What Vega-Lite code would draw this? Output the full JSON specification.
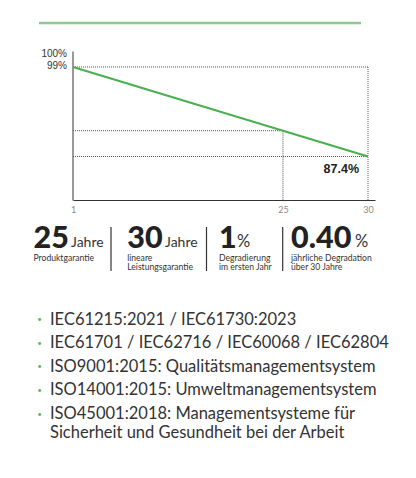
{
  "$schema": "https://vega.github.io/schema/vega-lite/v6.json",
  "width": 416,
  "height": 478,
  "autosize": "none",
  "padding": 0,
  "background": "white",
  "config": {"view": {"stroke": null}},
  "datasets": {
    "stats": [
      {"col": 0, "num": "25", "unit": "Jahre", "sub": "Produktgarantie"},
      {"col": 1, "num": "30", "unit": "Jahre", "sub": "lineare\nLeistungsgarantie"},
      {"col": 2, "num": "1", "unit": "%", "sub": "Degradierung\nim ersten Jahr"},
      {"col": 3, "num": "0.40", "unit": "%", "sub": "jährliche Degradation\nüber 30 Jahre"}
    ]
  },
  "resolve": {"scale": {"x": "independent", "y": "independent"}, "axis": {"x": "independent", "y": "independent"}},
  "layer": [
    {
      "data": {"values": [{}]},
      "mark": {"type": "rule", "color": "#8dcb8d", "strokeWidth": 2.5},
      "encoding": {
        "x": {"datum": 0, "scale": {"domain": [0, 1], "range": [39, 361], "zero": false, "nice": false}, "axis": null},
        "x2": {"datum": 1},
        "y": {"datum": 0, "scale": {"domain": [0, 1], "range": [23, 24], "zero": false, "nice": false}, "axis": null}
      }
    },
    {
      "data": {"values": [
        {"year": 1, "value": 99},
        {"year": 25, "value": 89.4},
        {"year": 30, "value": 87.4}
      ]},
      "layer": [
        {
          "data": {"values": [
            {"x1": 1, "x2": 30, "y1": 99, "y2": 99},
            {"x1": 30, "x2": 30, "y1": 99, "y2": 80},
            {"x1": 1, "x2": 25, "y1": 89.4, "y2": 89.4},
            {"x1": 25, "x2": 25, "y1": 89.4, "y2": 80},
            {"x1": 1, "x2": 30, "y1": 87.4, "y2": 87.4}
          ]},
          "mark": {"type": "rule", "color": "#555555", "strokeWidth": 1, "strokeDash": [1, 1]},
          "encoding": {
            "x": {"field": "x1", "type": "quantitative", "title": null,
              "scale": {"type": "linear", "domain": [1, 25, 30, 30.41], "range": [73, 283, 368, 375], "zero": false, "nice": false},
              "axis": {"values": [1, 25, 30], "ticks": false, "grid": false, "domainColor": "#333333", "domainWidth": 1,
                "labelColor": "#8a8a8a", "labelFontSize": 9, "labelFont": "Lato", "labelPadding": 5, "offset": -278,
                "labelFlush": false, "labelOverlap": false, "title": null}},
            "x2": {"field": "x2"},
            "y": {"field": "y1", "type": "quantitative", "title": null,
              "scale": {"type": "linear", "domain": [80, 87.4, 89.4, 99, 100, 100.45], "range": [200, 156.5, 130.7, 67, 55, 51], "zero": false, "nice": false},
              "axis": {"values": [99, 100], "ticks": false, "grid": false, "domainColor": "#333333", "domainWidth": 1,
                "labelColor": "#333333", "labelFontSize": 10, "labelFont": "Liberation Sans", "labelPadding": 6, "offset": -72.5,
                "labelOffset": -1.5, "labelOverlap": false, "labelExpr": "datum.value + '%'", "title": null}},
            "y2": {"field": "y2"}
          }
        },
        {
          "mark": {"type": "line", "color": "#4caf50", "strokeWidth": 2.2},
          "encoding": {
            "x": {"field": "year", "type": "quantitative", "title": null},
            "y": {"field": "value", "type": "quantitative", "title": null}
          }
        },
        {
          "data": {"values": [{"year": 30, "value": 87.4, "label": "87.4%"}]},
          "mark": {"type": "text", "align": "right", "baseline": "alphabetic", "dx": -9, "dy": 16, "font": "Liberation Sans", "fontWeight": "bold", "fontSize": 12.5, "color": "#222222"},
          "encoding": {
            "x": {"field": "year", "type": "quantitative", "title": null},
            "y": {"field": "value", "type": "quantitative", "title": null},
            "text": {"field": "label"}
          }
        }
      ]
    },
    {
      "data": {"name": "stats"},
      "layer": [
        {
          "mark": {"type": "text", "align": "left", "baseline": "alphabetic", "font": "Lato", "fontWeight": 900, "fontSize": 30.5, "color": "#222222"},
          "encoding": {
            "x": {"field": "col", "type": "quantitative", "scale": {"domain": [0, 1, 2, 3], "range": [33.5, 127.2, 219, 291], "zero": false, "nice": false}, "axis": null},
            "y": {"datum": 0, "scale": {"domain": [0, 1], "range": [247.5, 261], "zero": false, "nice": false}, "axis": null},
            "text": {"field": "num"}
          }
        },
        {
          "mark": {"type": "text", "align": "left", "baseline": "alphabetic", "font": "Lato", "fontSize": 8.6, "lineBreak": "\n", "lineHeight": 9.4, "color": "#333333"},
          "encoding": {
            "x": {"field": "col", "type": "quantitative", "axis": null},
            "y": {"datum": 1, "axis": null},
            "text": {"field": "sub"}
          }
        }
      ]
    },
    {
      "data": {"name": "stats"},
      "mark": {"type": "text", "align": "left", "baseline": "alphabetic", "font": "Lato", "color": "#333333"},
      "encoding": {
        "x": {"field": "col", "type": "quantitative", "scale": {"domain": [0, 1, 2, 3], "range": [71, 165, 237, 355], "zero": false, "nice": false}, "axis": null},
        "y": {"datum": 0, "scale": {"domain": [0, 1], "range": [247, 261.5], "zero": false, "nice": false}, "axis": null},
        "size": {"condition": {"test": "datum.unit === '%'", "value": 16.5}, "value": 14},
        "text": {"field": "unit"}
      }
    },
    {
      "data": {"name": "stats"},
      "transform": [{"filter": "datum.col > 0"}],
      "mark": {"type": "rule", "color": "#333333", "strokeWidth": 1.2},
      "encoding": {
        "x": {"field": "col", "type": "quantitative", "scale": {"domain": [1, 2, 3], "range": [111, 206.5, 282.7], "zero": false, "nice": false}, "axis": null},
        "y": {"datum": 0, "scale": {"domain": [0, 1], "range": [227, 271], "zero": false, "nice": false}, "axis": null},
        "y2": {"datum": 1}
      }
    },
    {
      "data": {"values": [
        {"i": 0, "text": "IEC61215:2021 / IEC61730:2023"},
        {"i": 1, "text": "IEC61701 / IEC62716 / IEC60068 / IEC62804"},
        {"i": 2, "text": "ISO9001:2015: Qualitätsmanagementsystem"},
        {"i": 3, "text": "ISO14001:2015: Umweltmanagementsystem"},
        {"i": 4, "text": "ISO45001:2018: Managementsysteme für\nSicherheit und Gesundheit bei der Arbeit"}
      ]},
      "layer": [
        {
          "mark": {"type": "text", "align": "left", "baseline": "alphabetic", "font": "Lato", "fontSize": 16.5, "lineBreak": "\n", "lineHeight": 18.5, "color": "#333333"},
          "encoding": {
            "x": {"datum": 0, "scale": {"domain": [0, 1], "range": [50, 416], "zero": false, "nice": false}, "axis": null},
            "y": {"field": "i", "type": "quantitative", "scale": {"domain": [0, 4], "range": [324.5, 419], "zero": false, "nice": false}, "axis": null},
            "text": {"field": "text"}
          }
        },
        {
          "mark": {"type": "text", "align": "center", "baseline": "alphabetic", "font": "Lato", "fontSize": 8, "dx": -10.5, "dy": -2.5, "color": "#5cb85c"},
          "encoding": {
            "x": {"datum": 0, "axis": null},
            "y": {"field": "i", "type": "quantitative", "axis": null},
            "text": {"value": "•"}
          }
        }
      ]
    }
  ]
}
